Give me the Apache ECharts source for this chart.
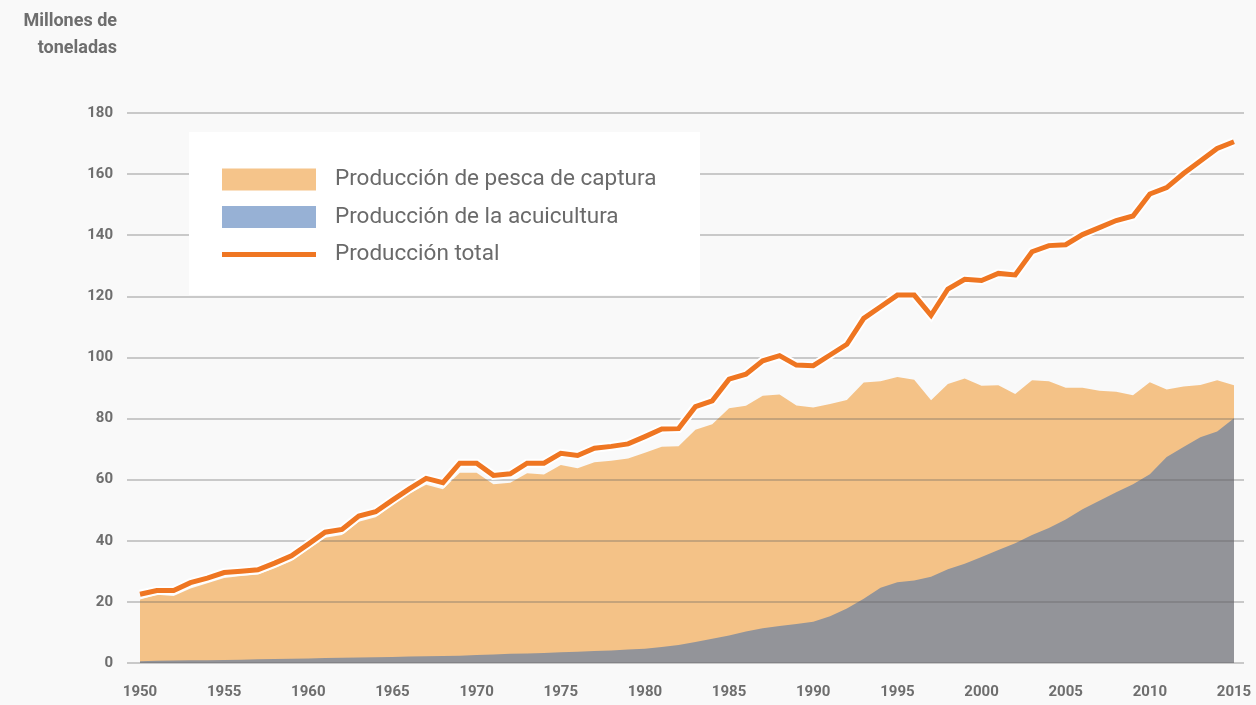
<!DOCTYPE html>
<html><head><meta charset="utf-8">
<script src="https://cdn.jsdelivr.net/npm/echarts@6/dist/echarts.min.js"></script>
<style>html,body{margin:0;padding:0;background:#f9f9f9;}#c{width:1256px;height:705px;}</style>
</head><body><div id="c"></div>
<script>
var years = [];
for (var y = 1950; y <= 2015; y++) years.push(String(y));

var captureData = [20.8,22.3,21.9,24.4,26.1,27.8,28.5,29.0,31.0,33.4,
  37.2,41.0,41.9,46.2,47.7,51.7,55.5,58.3,56.9,62.3,
  62.3,58.5,59.0,62.1,61.7,64.8,63.7,65.7,66.2,66.9,
  68.8,70.8,70.9,76.3,78.1,83.4,84.2,87.5,87.9,84.3,
  83.6,84.8,86.1,91.8,92.2,93.6,92.7,86.0,91.3,93.1,
  90.7,90.9,88.0,92.5,92.2,90.1,90.1,89.1,88.8,87.6,
  91.9,89.5,90.5,91.0,92.5,90.9];

var aquaData = [0.6,0.7,0.8,0.9,0.9,1.0,1.1,1.2,1.3,1.4,
  1.5,1.6,1.7,1.8,1.9,2.0,2.1,2.2,2.3,2.4,
  2.6,2.8,3.0,3.1,3.3,3.5,3.7,3.9,4.1,4.4,
  4.7,5.2,5.9,6.9,7.9,9.0,10.3,11.4,12.1,12.8,
  13.5,15.3,17.8,21.0,24.6,26.4,27.0,28.2,30.7,32.5,
  34.7,37.0,39.2,41.9,44.2,47.0,50.3,53.1,55.9,58.5,
  61.8,67.4,70.7,73.9,75.8,80.1];

var totalData = [22.5,23.7,23.7,26.3,27.8,29.6,30.0,30.5,32.7,35.1,
  38.9,42.8,43.7,48.1,49.5,53.3,57.0,60.4,59.0,65.4,
  65.4,61.4,61.9,65.4,65.4,68.6,67.9,70.3,70.9,71.7,
  74.1,76.6,76.7,83.9,85.8,92.9,94.5,98.9,100.6,97.5,
  97.3,100.8,104.3,112.8,116.6,120.4,120.4,113.8,122.4,125.6,
  125.2,127.5,127.0,134.6,136.6,136.9,140.2,142.5,144.8,146.3,
  153.5,155.6,160.2,164.3,168.4,170.6];

var seriesNames = ['Producción de pesca de captura','Producción de la acuicultura','Producción total'];
var yTitle = 'Millones de\ntoneladas';

var chart = echarts.init(document.getElementById('c'));
var FONT = 'Roboto, "Noto Sans", sans-serif';
chart.setOption({
  backgroundColor: '#f9f9f9',
  animation: false,
  grid: [
    {left: 140, right: 22, top: 113, bottom: 42},
    {left: 127, right: 12, top: 113, bottom: 42}
  ],
  xAxis: [
    {type: 'category', gridIndex: 0, data: years, boundaryGap: false,
     axisLine: {show: false}, axisTick: {show: false},
     axisLabel: {interval: 4, margin: 22, color: '#6e6e6e', fontSize: 15, fontWeight: 'bold', fontFamily: FONT},
     splitLine: {show: false}},
    {type: 'value', gridIndex: 1, show: false, min: 0, max: 1}
  ],
  yAxis: [
    {type: 'value', gridIndex: 0, min: 0, max: 180, interval: 20,
     axisLine: {show: false}, axisTick: {show: false},
     axisLabel: {margin: 27, color: '#6e6e6e', fontSize: 15, fontWeight: 'bold', fontFamily: FONT},
     splitLine: {show: false}},
    {type: 'value', gridIndex: 1, min: 0, max: 180, interval: 20, z: 4,
     axisLine: {show: false}, axisTick: {show: false}, axisLabel: {show: false},
     splitLine: {show: true, lineStyle: {color: 'rgba(95,95,95,0.42)', width: 1.5}}}
  ],
  legend: {
    orient: 'vertical', left: 217, top: 163, z: 12,
    itemWidth: 94, itemHeight: 22, itemGap: 14.5,
    textStyle: {color: '#6a6a6a', fontSize: 22.5, lineHeight: 22, fontFamily: FONT, padding: [0,0,0,14]},
    data: [
      {name: seriesNames[0], icon: 'rect', itemStyle: {color: '#f5c48a'}},
      {name: seriesNames[1], icon: 'rect', itemStyle: {color: '#97b1d5'}},
      {name: seriesNames[2], icon: 'path://M0,0H94V5H0Z', itemStyle: {color: '#ef7622'}}
    ]
  },
  graphic: [
    {type: 'rect', left: 189, top: 132, z: 10, shape: {width: 511, height: 163}, style: {fill: '#ffffff'}},
    {type: 'text', x: 117, y: 8, z: 10,
     style: {text: yTitle, fill: '#6e6e6e', font: 'bold 18px ' + FONT, textAlign: 'right', align: 'right', lineHeight: 27}}
  ],
  series: [
    {name: seriesNames[0], type: 'line', xAxisIndex: 0, yAxisIndex: 0, data: captureData,
     showSymbol: false, symbol: 'none', z: 2, lineStyle: {width: 0}, itemStyle: {color: '#f5c48a'},
     areaStyle: {color: '#f4c287', opacity: 1}},
    {name: seriesNames[1], type: 'line', xAxisIndex: 0, yAxisIndex: 0, data: aquaData,
     showSymbol: false, symbol: 'none', z: 3, lineStyle: {width: 0}, itemStyle: {color: '#939499'},
     areaStyle: {color: '#939499', opacity: 1}},
    {name: 'halo', type: 'line', xAxisIndex: 0, yAxisIndex: 0, data: totalData, silent: true,
     showSymbol: false, symbol: 'none', z: 5, lineStyle: {width: 9, color: '#ffffff', join: 'miter'}},
    {name: seriesNames[2], type: 'line', xAxisIndex: 0, yAxisIndex: 0, data: totalData,
     showSymbol: false, symbol: 'none', z: 6, itemStyle: {color: '#ef7622'},
     lineStyle: {width: 5, color: '#ef7622', join: 'miter'}}
  ]
});
</script></body></html>
